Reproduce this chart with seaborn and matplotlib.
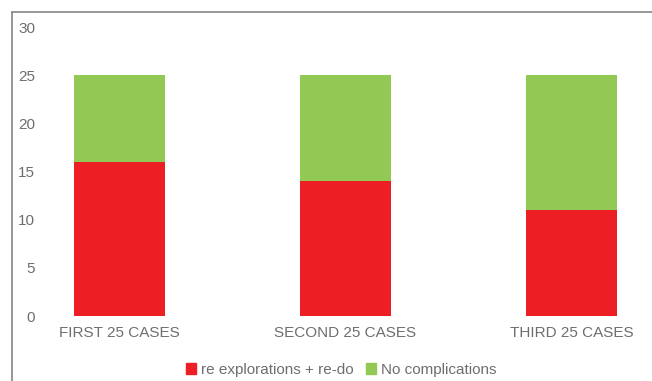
"""
Stacked bar chart: complications across consecutive case groups.

Outputs:
  out.png
"""

import matplotlib.pyplot as plt
import pandas as pd
import seaborn as sns
from matplotlib.lines import Line2D
from matplotlib.patches import Patch

CATEGORIES = ["FIRST 25 CASES", "SECOND 25 CASES", "THIRD 25 CASES"]
REDO = [16, 14, 11]
NO_COMPLICATIONS = [9, 11, 14]
SERIES_LABELS = ["re explorations + re-do", "No complications"]

RED = "#ED1F24"
GREEN = "#92C854"
TEXT = "#6E6E6E"


def main():
    df = pd.DataFrame({"group": CATEGORIES, "redo": REDO, "ok": NO_COMPLICATIONS})
    df["total"] = df["redo"] + df["ok"]

    sns.set_theme(style="white")
    plt.rcParams["font.family"] = ["Liberation Sans", "DejaVu Sans"]

    W, H = 652, 381
    fig = plt.figure(figsize=(W / 100, H / 100), dpi=100)
    # plot area in pixels: left 45, right 640, y=0 at 316, y=30 at 27
    px_left, px_right, px_bot, px_top = 45, 640, 316, 27
    ax = fig.add_axes([px_left / W, (H - px_bot) / H,
                       (px_right - px_left) / W, (px_bot - px_top) / H])

    # stacked: draw the total in green, then the bottom segment in red
    sns.barplot(data=df, x="group", y="total", color=GREEN, width=0.4,
                saturation=1, linewidth=0, ax=ax)
    sns.barplot(data=df, x="group", y="redo", color=RED, width=0.4,
                saturation=1, linewidth=0, ax=ax)

    # category spacing ~226 px, first centre at 119.5 px
    step = 226.0
    ax.set_xlim((px_left - 119.5) / step, (px_right - 119.5) / step)
    ax.set_ylim(0, 30)
    ax.set_yticks(range(0, 31, 5))
    ax.set_xlabel("")
    ax.set_ylabel("")
    for s in ax.spines.values():
        s.set_visible(False)
    ax.tick_params(axis="both", length=0, labelsize=11, labelcolor=TEXT)
    ax.tick_params(axis="y", pad=7)
    ax.tick_params(axis="x", pad=7)
    ax.grid(False)

    handles = [Patch(color=RED, label=SERIES_LABELS[0]),
               Patch(color=GREEN, label=SERIES_LABELS[1])]
    fig.legend(handles=handles, loc="center", bbox_to_anchor=(341 / W, 11 / H),
               ncol=2, frameon=False, fontsize=11, labelcolor=TEXT,
               handlelength=0.7, handleheight=0.7, handletextpad=0.3,
               columnspacing=0.8)

    # chart frame (cropped at right and bottom)
    fig.add_artist(Line2D([12 / W, 1], [1 - 12 / H, 1 - 12 / H],
                          transform=fig.transFigure, color="#858585", lw=1.2))
    fig.add_artist(Line2D([12 / W, 12 / W], [0, 1 - 12 / H],
                          transform=fig.transFigure, color="#858585", lw=1.2))

    fig.savefig("out.png", dpi=100, facecolor="white")
    plt.close(fig)


if __name__ == "__main__":
    main()
